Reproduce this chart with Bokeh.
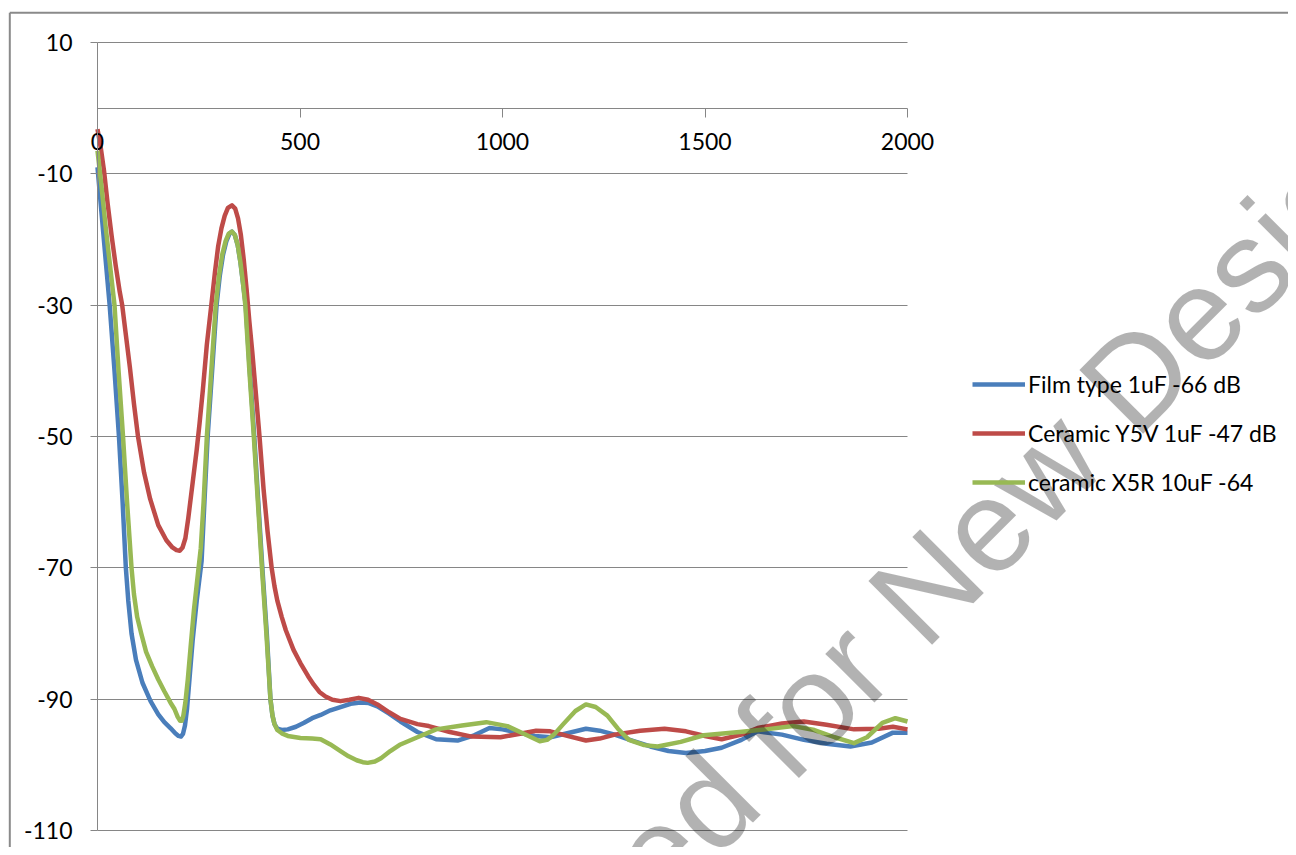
import math
from bokeh.plotting import figure
from bokeh.models import (Range1d, LinearAxis, FixedTicker, Grid, Legend, LegendItem,
                          CustomJSTickFormatter)
from bokeh.core.properties import value
from bokeh.embed import file_html
from bokeh.resources import INLINE

# ---------------- data ----------------
series_names = ["Film type 1uF -66 dB", "Ceramic Y5V 1uF -47 dB", "ceramic X5R 10uF -64"]

film_x = [0, 10, 20, 30, 42, 53, 62, 70, 76, 84, 95, 111, 131, 150, 165, 180, 192, 200, 206,
          211, 216, 221, 227, 235, 245, 257, 264, 272, 283, 294, 302, 310, 318, 326, 332, 339,
          346, 353, 359, 366, 376, 387, 397, 407, 418, 427, 432, 437, 444, 455, 470, 490, 510,
          530, 551, 575, 600, 625, 649, 670, 691, 720, 748, 790, 836, 889, 930, 968, 1000,
          1039, 1080, 1118, 1160, 1206, 1240, 1277, 1320, 1365, 1410, 1453, 1500, 1541, 1590,
          1630, 1690, 1744, 1800, 1859, 1912, 1964, 2000]
film_y = [-9, -16, -23, -30, -40, -50, -60, -70, -75, -80, -84, -87.5, -90.3, -92.3, -93.5,
          -94.4, -95.2, -95.6, -95.7, -95.3, -94, -91.5, -87, -81, -75, -69, -60, -50, -40, -30,
          -25.5, -22.3, -20.3, -19.1, -18.8, -19.3, -20.8, -23.5, -26.5, -30, -40, -50, -60,
          -70, -80, -90, -92.5, -93.8, -94.5, -94.7, -94.6, -94.2, -93.6, -92.9, -92.4, -91.7,
          -91.2, -90.7, -90.5, -90.6, -91.1, -92.2, -93.4, -95, -96.1, -96.3, -95.5, -94.4,
          -94.6, -95.1, -95.6, -95.8, -95.2, -94.5, -94.8, -95.4, -96.3, -97.2, -97.9, -98.2,
          -97.9, -97.4, -96.2, -94.9, -95.4, -96.2, -96.8, -97.2, -96.6, -95.1, -95.1]

y5v_x = [0, 8, 16, 25, 35, 45, 55, 61, 70, 80, 90, 100, 115, 130, 150, 170, 185, 195, 203, 210,
         217, 224, 235, 245, 252, 260, 270, 281, 290, 298, 306, 314, 322, 332, 340, 347, 354,
         361, 368, 375, 382, 389, 400, 410, 420, 430, 437, 444, 455, 465, 484, 501, 520, 534,
         548, 563, 580, 600, 622, 645, 668, 691, 720, 748, 790, 818, 870, 924, 995, 1040, 1083,
         1118, 1160, 1206, 1240, 1277, 1340, 1400, 1453, 1500, 1541, 1590, 1630, 1690, 1744,
         1800, 1868, 1929, 1964, 2000]
y5v_y = [-3.2, -6, -9.5, -14.5, -19.5, -24, -28, -30, -34.5, -39.5, -45, -50, -55.5, -59.5, -63.5,
         -65.8, -66.9, -67.3, -67.4, -66.9, -65.5, -62.5, -57, -52, -48, -43, -36, -30, -25,
         -21, -18.3, -16.4, -15.2, -14.8, -15.3, -16.8, -19.3, -23, -27.5, -32.5, -37, -42, -50,
         -58, -64.5, -70, -72.8, -75, -77.5, -79.5, -82.5, -84.5, -86.5, -87.8, -88.9, -89.6,
         -90.1, -90.3, -90.1, -89.8, -90.1, -90.8, -92, -93, -93.8, -94.1, -95, -95.7, -95.8,
         -95.3, -94.8, -94.9, -95.6, -96.3, -96, -95.4, -94.8, -94.5, -94.9, -95.6, -96.1,
         -95.4, -94.4, -93.7, -93.4, -93.9, -94.6, -94.5, -94.2, -94.6]

x5r_x = [0, 10, 20, 31, 42, 52, 63, 73, 84, 90, 98, 108, 120, 135, 150, 165, 180, 190, 198, 204,
         208, 212, 217, 223, 230, 238, 246, 255, 262, 270, 281, 292, 300, 308, 316, 324, 332,
         339, 346, 353, 359, 365, 375, 386, 396, 406, 417, 427, 432, 437, 444, 455, 470, 501,
         530, 551, 575, 600, 620, 640, 655, 667, 685, 700, 723, 748, 790, 836, 900, 960, 1012,
         1050, 1092, 1110, 1127, 1150, 1180, 1206, 1230, 1259, 1285, 1312, 1350, 1383, 1440,
         1497, 1585, 1650, 1718, 1770, 1820, 1868, 1900, 1938, 1970, 2000]
x5r_y = [-6.5, -12, -18, -24, -30, -40, -50, -60, -70, -74, -77.5, -80, -82.8, -85, -87, -88.8,
         -90.5, -91.5, -92.7, -93.3, -93.3, -92.5, -90.5, -87, -82, -76.5, -72, -67, -60, -50,
         -40, -30, -25.5, -22.3, -20.3, -19.1, -18.8, -19.3, -20.8, -23.5, -26.5, -30, -40, -50,
         -60, -70, -80, -90, -92.5, -93.8, -94.7, -95.2, -95.6, -95.9, -96, -96.1, -96.9, -97.9,
         -98.7, -99.3, -99.6, -99.7, -99.5, -99, -97.9, -96.9, -95.8, -94.6, -94, -93.5, -94.1,
         -95.2, -96.4, -96.2, -95.4, -93.8, -91.8, -90.8, -91.2, -92.5, -94.5, -96.2, -97,
         -97.2, -96.5, -95.5, -95, -94.6, -94.1, -94.7, -95.8, -96.7, -95.8, -93.6, -92.9, -93.4]

x_ticks = [0, 500, 1000, 1500, 2000]
y_ticks = [-110, -90, -70, -50, -30, -10, 10]
watermark_parts = ["Not Recommended", "for New Designs"]

# ---------------- geometry / style ----------------
W, H = 1288, 847
X0_PX, X1_PX = 97, 907        # picture px of x=0 and x=2000
YT_PX, YB_PX = 42, 830        # picture px of y=10 and y=-110


def px_to_x(u):
    return (u - X0_PX) * 2000.0 / (X1_PX - X0_PX)


def py_to_y(v):
    return 10 - (v - YT_PX) * 120.0 / (YB_PX - YT_PX)


BLUE, RED, GREEN = "#4a7ebb", "#be4b48", "#98b954"
GRAY = "#868686"
FONT = "Lato"
FSIZE = "23px"

p = figure(width=W, height=H,
           x_range=Range1d(px_to_x(0), px_to_x(W)),
           y_range=Range1d(py_to_y(H), py_to_y(0)),
           output_backend="svg", toolbar_location=None,
           x_axis_location=None, y_axis_location=None, title=None,
           min_border=0, outline_line_color=None,
           background_fill_color="white", border_fill_color="white")
p.center = [c for c in p.center if not isinstance(c, Grid)]

# horizontal grid lines limited to the data area
try:
    grid = Grid(dimension=1, ticker=FixedTicker(ticks=y_ticks), grid_line_color=GRAY,
                grid_line_width=1, cross_bounds=(0, 2000))
    p.add_layout(grid)
except Exception:
    p.segment(x0=[0] * len(y_ticks), x1=[2000] * len(y_ticks), y0=y_ticks, y1=y_ticks,
              line_color=GRAY, line_width=1)

# outer chart border (left and top)
p.segment(x0=[px_to_x(9.3), px_to_x(9.3)], x1=[px_to_x(9.3), px_to_x(1400)],
          y0=[py_to_y(12.2), py_to_y(12.2)], y1=[py_to_y(900), py_to_y(12.2)],
          line_color="#8a8a8a", line_width=2)

fmt = CustomJSTickFormatter(code="return tick.toString();")

# axes
xaxis = LinearAxis(fixed_location=0, ticker=FixedTicker(ticks=x_ticks), bounds=(0, 2000),
                   formatter=fmt,
                   axis_line_color=GRAY, axis_line_width=1,
                   major_tick_line_color=GRAY, major_tick_out=9, major_tick_in=0,
                   minor_tick_line_color=None, major_label_standoff=16,
                   major_label_text_font=FONT, major_label_text_font_size=FSIZE,
                   major_label_text_color="black")
p.add_layout(xaxis, "below")
yaxis = LinearAxis(fixed_location=0, ticker=FixedTicker(ticks=y_ticks), bounds=(-110, 10),
                   formatter=fmt,
                   axis_line_color=GRAY, axis_line_width=1,
                   major_tick_line_color=GRAY, major_tick_out=7, major_tick_in=0,
                   minor_tick_line_color=None, major_label_standoff=18,
                   major_label_text_font=FONT, major_label_text_font_size=FSIZE,
                   major_label_text_color="black")
p.add_layout(yaxis, "left")

# series
rs = []
for xs, ys, col in [(film_x, film_y, BLUE), (y5v_x, y5v_y, RED), (x5r_x, x5r_y, GREEN)]:
    rs.append(p.line(xs, ys, line_color=col, line_width=4.5, line_join="round"))

legend = Legend(items=[LegendItem(label=n, renderers=[r]) for n, r in zip(series_names, rs)],
                location=(972, 351), orientation="vertical",
                glyph_width=53, glyph_height=26, label_height=26, label_width=10,
                label_standoff=3, spacing=21, padding=0, margin=0,
                border_line_color=None, background_fill_alpha=0,
                label_text_font=FONT, label_text_font_size=FSIZE,
                label_text_color="black", label_text_baseline="middle")
p.add_layout(legend)

# watermark
ang = math.pi / 4
for (ax, ay), part, align in [((734, 776), watermark_parts[0], "right"),
                              ((758, 753.5), watermark_parts[1], "left")]:
    p.text(x=[px_to_x(ax)], y=[py_to_y(ay)], text=[part], angle=ang,
           text_align=align, text_baseline="alphabetic",
           text_font=value("Liberation Sans"), text_font_size="131px",
           text_color="black", text_alpha=0.3, level="overlay")

open("out.html", "w").write(file_html(p, INLINE))
